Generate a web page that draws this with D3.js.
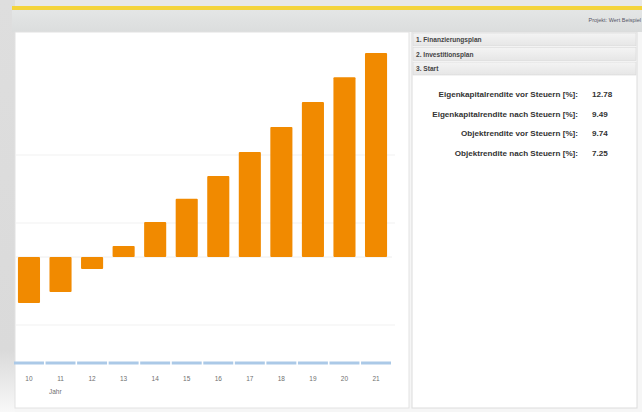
<!DOCTYPE html>
<html>
<head>
<meta charset="utf-8">
<script src="https://cdn.jsdelivr.net/npm/d3@7"></script>
<style>
  html, body { margin: 0; padding: 0; background: #ffffff; }
  svg { display: block; font-family: "Liberation Sans", Arial, sans-serif; }
</style>
</head>
<body>
<svg id="chart" width="642" height="412"></svg>
<script>
// ---- data ----
const years = ["10", "11", "12", "13", "14", "15", "16", "17", "18", "19", "20", "21"];
const values = [-1.35, -1.03, -0.35, 0.32, 1.03, 1.71, 2.38, 3.09, 3.82, 4.56, 5.29, 6.0];
const gridTicks = [-2, 1, 3];
const panelHeaders = ["1. Finanzierungsplan", "2. Investitionsplan", "3. Start"];
const metricLabels = [
  "Eigenkapitalrendite vor Steuern [%]:",
  "Eigenkapitalrendite nach Steuern [%]:",
  "Objektrendite vor Steuern [%]:",
  "Objektrendite nach Steuern [%]:"
];
const metricValues = ["12.78", "9.49", "9.74", "7.25"];
const projectLabel = "Projekt: Wert Beispiel";
const axisTitle = "Jahr";

const svg = d3.select("#chart");
const defs = svg.append("defs");

// gradients for frame
const gShadow = defs.append("linearGradient").attr("id", "shadowV").attr("x1", 0).attr("y1", 0).attr("x2", 0).attr("y2", 1);
gShadow.append("stop").attr("offset", "0%").attr("stop-color", "#dedede");
gShadow.append("stop").attr("offset", "85%").attr("stop-color", "#dadada");
gShadow.append("stop").attr("offset", "100%").attr("stop-color", "#f8f8f8");

const gHead = defs.append("linearGradient").attr("id", "headG").attr("x1", 0).attr("y1", 0).attr("x2", 0).attr("y2", 1);
gHead.append("stop").attr("offset", "0%").attr("stop-color", "#e4e6e6");
gHead.append("stop").attr("offset", "100%").attr("stop-color", "#dbdddd");

const gAcc = defs.append("linearGradient").attr("id", "accG").attr("x1", 0).attr("y1", 0).attr("x2", 0).attr("y2", 1);
gAcc.append("stop").attr("offset", "0%").attr("stop-color", "#f4f4f4");
gAcc.append("stop").attr("offset", "100%").attr("stop-color", "#e6e6e6");

// outer background
svg.append("rect").attr("x", 0).attr("y", 0).attr("width", 642).attr("height", 412).attr("fill", "#f6f6f6");
svg.append("rect").attr("x", 0).attr("y", 0).attr("width", 642).attr("height", 8).attr("fill", "#e8e8e8");
svg.append("rect").attr("x", 0).attr("y", 0).attr("width", 15).attr("height", 412).attr("fill", "url(#shadowV)");

// yellow stripe + header bar
svg.append("rect").attr("x", 12).attr("y", 6).attr("width", 630).attr("height", 4).attr("fill", "#f4d43c");
svg.append("rect").attr("x", 12).attr("y", 10).attr("width", 630).attr("height", 22).attr("fill", "url(#headG)");
svg.append("text").attr("x", 641).attr("y", 22).attr("text-anchor", "end")
  .attr("font-size", 5.5).attr("fill", "#556").text(projectLabel);

// chart panel
svg.append("rect").attr("x", 15).attr("y", 32).attr("width", 394).attr("height", 376)
  .attr("fill", "#ffffff").attr("stroke", "#e2e2e2").attr("stroke-width", 1);
// right panel
svg.append("rect").attr("x", 412).attr("y", 32).attr("width", 225).attr("height", 376)
  .attr("fill", "#ffffff").attr("stroke", "#dcdcdc").attr("stroke-width", 1);

// ---- scales ----
const x = d3.scaleBand().domain(years).range([13.2, 391.8]).paddingInner(0.3).paddingOuter(0.15);
const y = d3.scaleLinear().domain([-3, 6.5]).range([359, 36]);

// gridlines
svg.append("g").selectAll("line").data(gridTicks).join("line")
  .attr("x1", 16).attr("x2", 395)
  .attr("y1", d => y(d)).attr("y2", d => y(d))
  .attr("stroke", "#f1f1f1").attr("stroke-width", 1);
svg.append("line").attr("x1", 16).attr("x2", 392).attr("y1", y(0)).attr("y2", y(0))
  .attr("stroke", "#eeeeee").attr("stroke-width", 1);

// bars
svg.append("g").selectAll("rect").data(values).join("rect")
  .attr("x", (d, i) => x(years[i]))
  .attr("width", x.bandwidth())
  .attr("y", d => y(Math.max(0, d)))
  .attr("height", d => Math.abs(y(d) - y(0)))
  .attr("rx", 1)
  .attr("fill", "#f18a00");

// blue band segments
const step = x.step();
svg.append("g").selectAll("rect").data(years).join("rect")
  .attr("x", d => x(d) + x.bandwidth() / 2 - step / 2 + 0.8)
  .attr("width", step - 1.6)
  .attr("y", 361.5).attr("height", 3)
  .attr("fill", "#abc9e7");

// x axis labels
svg.append("g").selectAll("text").data(years).join("text")
  .attr("x", d => x(d) + x.bandwidth() / 2)
  .attr("y", 381)
  .attr("text-anchor", "middle")
  .attr("font-size", 6.5).attr("fill", "#6f6f6f").text(d => d);
svg.append("text").attr("x", 49).attr("y", 394).attr("font-size", 6.5).attr("fill", "#6f6f6f").text(axisTitle);

// accordion headers
const acc = svg.append("g").selectAll("g").data(panelHeaders).join("g")
  .attr("transform", (d, i) => `translate(413, ${33 + i * 14.5})`);
acc.append("rect").attr("width", 223).attr("height", 13).attr("fill", "url(#accG)")
  .attr("stroke", "#d6d6d6").attr("stroke-width", 0.6);
acc.append("text").attr("x", 3).attr("y", 9).attr("font-size", 6.6).attr("font-weight", "bold")
  .attr("fill", "#444").text(d => d);

// metrics
const mg = svg.append("g").selectAll("g").data(metricLabels).join("g")
  .attr("transform", (d, i) => `translate(0, ${96.8 + i * 19.7})`);
mg.append("text").attr("x", 578).attr("text-anchor", "end").attr("font-size", 8.1)
  .attr("font-weight", "bold").attr("fill", "#333").text(d => d);
mg.append("text").attr("x", 592).attr("font-size", 8.1)
  .attr("font-weight", "bold").attr("fill", "#333").text((d, i) => metricValues[i]);
</script>
</body>
</html>
